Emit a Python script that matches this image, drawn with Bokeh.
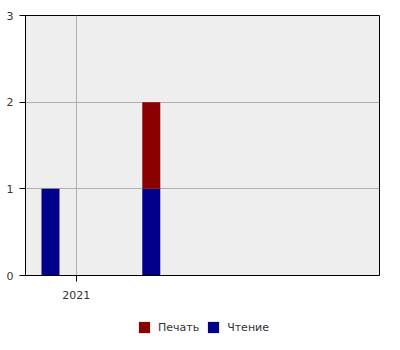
import pandas as pd
from bokeh.plotting import figure
from bokeh.layouts import column
from bokeh.models import (Range1d, FixedTicker, DatetimeTickFormatter, Legend,
                          LegendItem, ColumnDataSource)
from bokeh.embed import file_html
from bokeh.resources import INLINE

# ---- data ----
periods = ["2020-12-01", "2021-04-01"]
reading = [1, 1]      # Чтение
printing = [0, 1]     # Печать
series_labels = ["Чтение", "Печать"]
series_colors = ["#00008b", "#8b0000"]
y_ticks = [0, 1, 2, 3]
x_tick_dates = ["2021-01-01"]
x_start, x_end = "2020-11-01", "2021-12-31"

src = ColumnDataSource(dict(x=pd.to_datetime(periods), read=reading, prn=printing))

FONT = "DejaVu Sans"
TXT = "#333333"
day_ms = 86400000
BAR_W = 21.6 * day_ms

p = figure(width=400, height=305, x_axis_type="datetime",
           output_backend="svg", toolbar_location=None,
           x_range=Range1d(pd.Timestamp(x_start), pd.Timestamp(x_end)),
           y_range=Range1d(0, 3),
           min_border_left=25, min_border_right=21, min_border_top=15,
           min_border_bottom=30)
p.background_fill_color = "#eeeeee"
p.border_fill_color = "white"
p.outline_line_color = "black"
p.outline_line_width = 1

renderers = p.vbar_stack(["read", "prn"], x="x", width=BAR_W,
                         color=series_colors, line_color=None, source=src)

# axes
tick_ms = [pd.Timestamp(d).value // 10**6 for d in x_tick_dates]
p.xaxis.ticker = FixedTicker(ticks=tick_ms)
fmt = "%Y"
p.xaxis.formatter = DatetimeTickFormatter(
    microseconds=fmt, milliseconds=fmt, seconds=fmt, minsec=fmt, minutes=fmt,
    hourmin=fmt, hours=fmt, days=fmt, months=fmt, years=fmt)
p.yaxis.ticker = FixedTicker(ticks=y_ticks)

for ax in (p.xaxis[0], p.yaxis[0]):
    ax.axis_line_color = "black"
    ax.major_tick_line_color = "black"
    ax.major_tick_out = 6
    ax.major_tick_in = 0
    ax.minor_tick_line_color = None
    ax.major_label_text_font = FONT
    ax.major_label_text_font_size = "11px"
    ax.major_label_text_color = TXT
p.xaxis.major_label_standoff = 9
p.yaxis.major_label_standoff = 6

p.grid.grid_line_color = "#b0b0b0"
p.grid.grid_line_width = 1
p.xgrid.ticker = FixedTicker(ticks=tick_ms)
p.ygrid.ticker = FixedTicker(ticks=y_ticks)

# ---- legend strip below the chart (same series, bars kept out of its view) ----
lg = figure(width=400, height=45, output_backend="svg", toolbar_location=None,
            x_axis_type="datetime",
            x_range=Range1d(pd.Timestamp("2019-01-01"), pd.Timestamp("2019-06-01")),
            y_range=Range1d(5, 6),
            x_axis_location=None, y_axis_location=None,
            min_border=0, outline_line_color=None)
lg.grid.visible = False
lg_r = lg.vbar_stack(["read", "prn"], x="x", width=BAR_W,
                     color=series_colors, line_color=None, source=src)

legend = Legend(items=[LegendItem(label=series_labels[1], renderers=[lg_r[1]]),
                       LegendItem(label=series_labels[0], renderers=[lg_r[0]])],
                orientation="horizontal", location=(112, 16),
                glyph_width=14, glyph_height=14, label_height=14,
                label_standoff=7, spacing=7, padding=6, margin=0,
                label_text_font=FONT, label_text_font_size="11px",
                label_text_color=TXT, border_line_color=None,
                background_fill_alpha=0)
lg.add_layout(legend, "center")

open("out.html", "w").write(file_html(column(p, lg, spacing=0), INLINE))
